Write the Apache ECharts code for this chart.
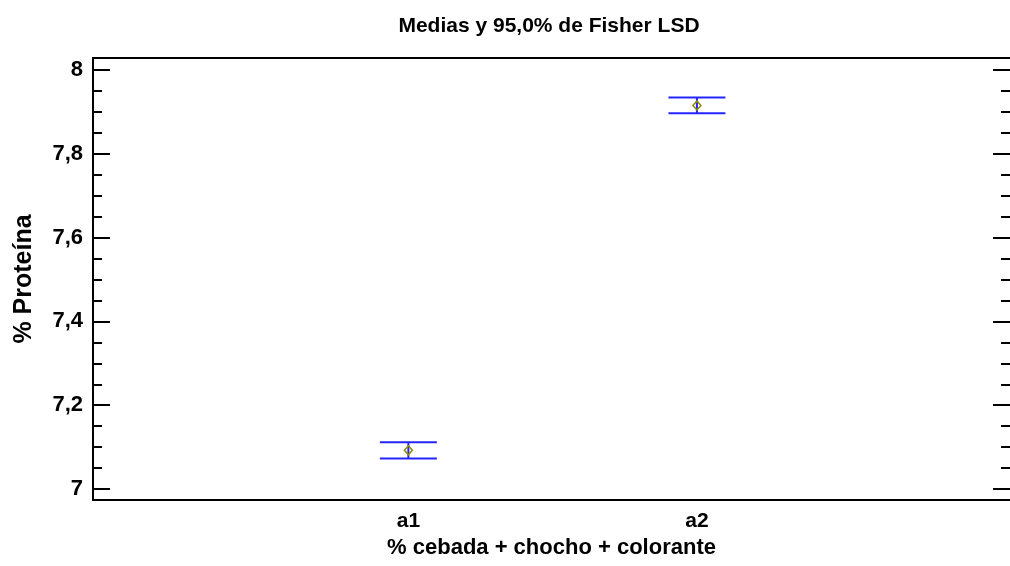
<!DOCTYPE html>
<html>
<head>
<meta charset="utf-8">
<script src="https://cdn.jsdelivr.net/npm/echarts@6/dist/echarts.min.js"></script>
<style>
  html, body { margin: 0; padding: 0; background: #ffffff; }
  #chart { width: 1010px; height: 566px; }
</style>
</head>
<body>
<div id="chart"></div>
<script>
// ---- data ----
const categories = ['a1', 'a2'];
const means = [7.0925, 7.915];
const lowerLSD = [7.073, 7.896];
const upperLSD = [7.112, 7.934];
const yMajorTicks = [7, 7.2, 7.4, 7.6, 7.8, 8];
const yMinorTicks = [7.05, 7.1, 7.15, 7.25, 7.3, 7.35, 7.45, 7.5, 7.55, 7.65, 7.7, 7.75, 7.85, 7.9, 7.95];
const titleText = 'Medias y 95,0% de Fisher LSD';
const xName = '% cebada + chocho + colorante';
const yName = '% Proteína';

// ---- build ----
const FONT = 'Liberation Sans';
const catPos = categories.map((c, i) => i + 1);
const seriesData = categories.map((c, i) => [catPos[i], means[i], lowerLSD[i], upperLSD[i]]);
const X_MIN = -0.093, X_MAX = 3.085;
const Y_MIN = 6.974, Y_MAX = 8.028;
const fmtComma = v => String(Math.round(v * 100) / 100).replace('.', ',');

function yAx(opts) {
  const base = {
    type: 'value', min: Y_MIN, max: Y_MAX,
    splitLine: { show: false },
    axisLine: { show: false, onZero: false },
    axisLabel: { show: false },
    axisTick: { show: false }
  };
  const o = Object.assign(base, opts);
  o.axisLine = Object.assign({ onZero: false }, o.axisLine);
  return o;
}

const chart = echarts.init(document.getElementById('chart'), null, { renderer: 'canvas' });
chart.setOption({
  backgroundColor: '#ffffff',
  animation: false,
  title: {
    text: titleText,
    left: 544, top: 11, textAlign: 'center',
    textStyle: { fontFamily: FONT, fontWeight: 'bold', fontSize: 21, color: '#000' }
  },
  grid: { left: 93, right: -3, top: 58, bottom: 66, containLabel: false },
  xAxis: [
    {
      type: 'value', min: X_MIN, max: X_MAX, position: 'bottom',
      name: xName, nameLocation: 'middle', nameGap: 31,
      nameTextStyle: { fontFamily: FONT, fontWeight: 'bold', fontSize: 22, color: '#000' },
      splitLine: { show: false },
      axisLine: { show: true, onZero: false, lineStyle: { color: '#000', width: 2 } },
      axisTick: { show: false },
      axisLabel: {
        customValues: catPos, margin: 11,
        formatter: v => categories[Math.round(v) - 1] || '',
        fontFamily: FONT, fontWeight: 'bold', fontSize: 21, color: '#000'
      }
    },
    {
      type: 'value', min: X_MIN, max: X_MAX, position: 'top',
      splitLine: { show: false },
      axisLine: { show: true, onZero: false, lineStyle: { color: '#000', width: 2 } },
      axisTick: { show: false }, axisLabel: { show: false }
    }
  ],
  yAxis: [
    yAx({
      position: 'left',
      name: yName, nameLocation: 'middle', nameGap: 56, nameRotate: 90,
      nameTextStyle: { fontFamily: FONT, fontWeight: 'bold', fontSize: 25, color: '#000' },
      axisLine: { show: true, onZero: false, lineStyle: { color: '#000', width: 2 } },
      axisTick: { show: true, inside: true, length: 17, customValues: yMajorTicks, lineStyle: { color: '#000', width: 2 } },
      axisLabel: { show: true, customValues: yMajorTicks, formatter: fmtComma, margin: 10,
        fontFamily: FONT, fontWeight: 'bold', fontSize: 22, color: '#000' }
    }),
    yAx({
      position: 'left',
      axisTick: { show: true, inside: true, length: 9, customValues: yMinorTicks, lineStyle: { color: '#000', width: 2 } }
    }),
    yAx({
      position: 'right',
      axisTick: { show: true, inside: true, length: 17, customValues: yMajorTicks, lineStyle: { color: '#000', width: 2 } }
    }),
    yAx({
      position: 'right',
      axisTick: { show: true, inside: true, length: 9, customValues: yMinorTicks, lineStyle: { color: '#000', width: 2 } }
    })
  ],
  series: [{
    type: 'custom',
    xAxisIndex: 0, yAxisIndex: 0,
    data: seriesData,
    encode: { x: 0, y: [1, 2, 3] },
    renderItem: function (params, api) {
      const x = api.value(0);
      const pm = api.coord([x, api.value(1)]);
      const pl = api.coord([x, api.value(2)]);
      const pu = api.coord([x, api.value(3)]);
      const hw = 28.5;
      const blue = { stroke: '#2424ff', lineWidth: 2 };
      return {
        type: 'group',
        children: [
          { type: 'line', shape: { x1: pu[0] - hw, y1: pu[1], x2: pu[0] + hw, y2: pu[1] }, style: blue },
          { type: 'line', shape: { x1: pl[0] - hw, y1: pl[1], x2: pl[0] + hw, y2: pl[1] }, style: blue },
          { type: 'line', shape: { x1: pm[0], y1: pl[1], x2: pm[0], y2: pu[1] }, style: blue },
          { type: 'polygon', shape: { points: [[pm[0], pm[1] - 4.5], [pm[0] + 4, pm[1]], [pm[0], pm[1] + 4.5], [pm[0] - 4, pm[1]]] },
            style: { fill: null, stroke: '#8c8c00', lineWidth: 1.5 } }
        ]
      };
    }
  }]
});
</script>
</body>
</html>
